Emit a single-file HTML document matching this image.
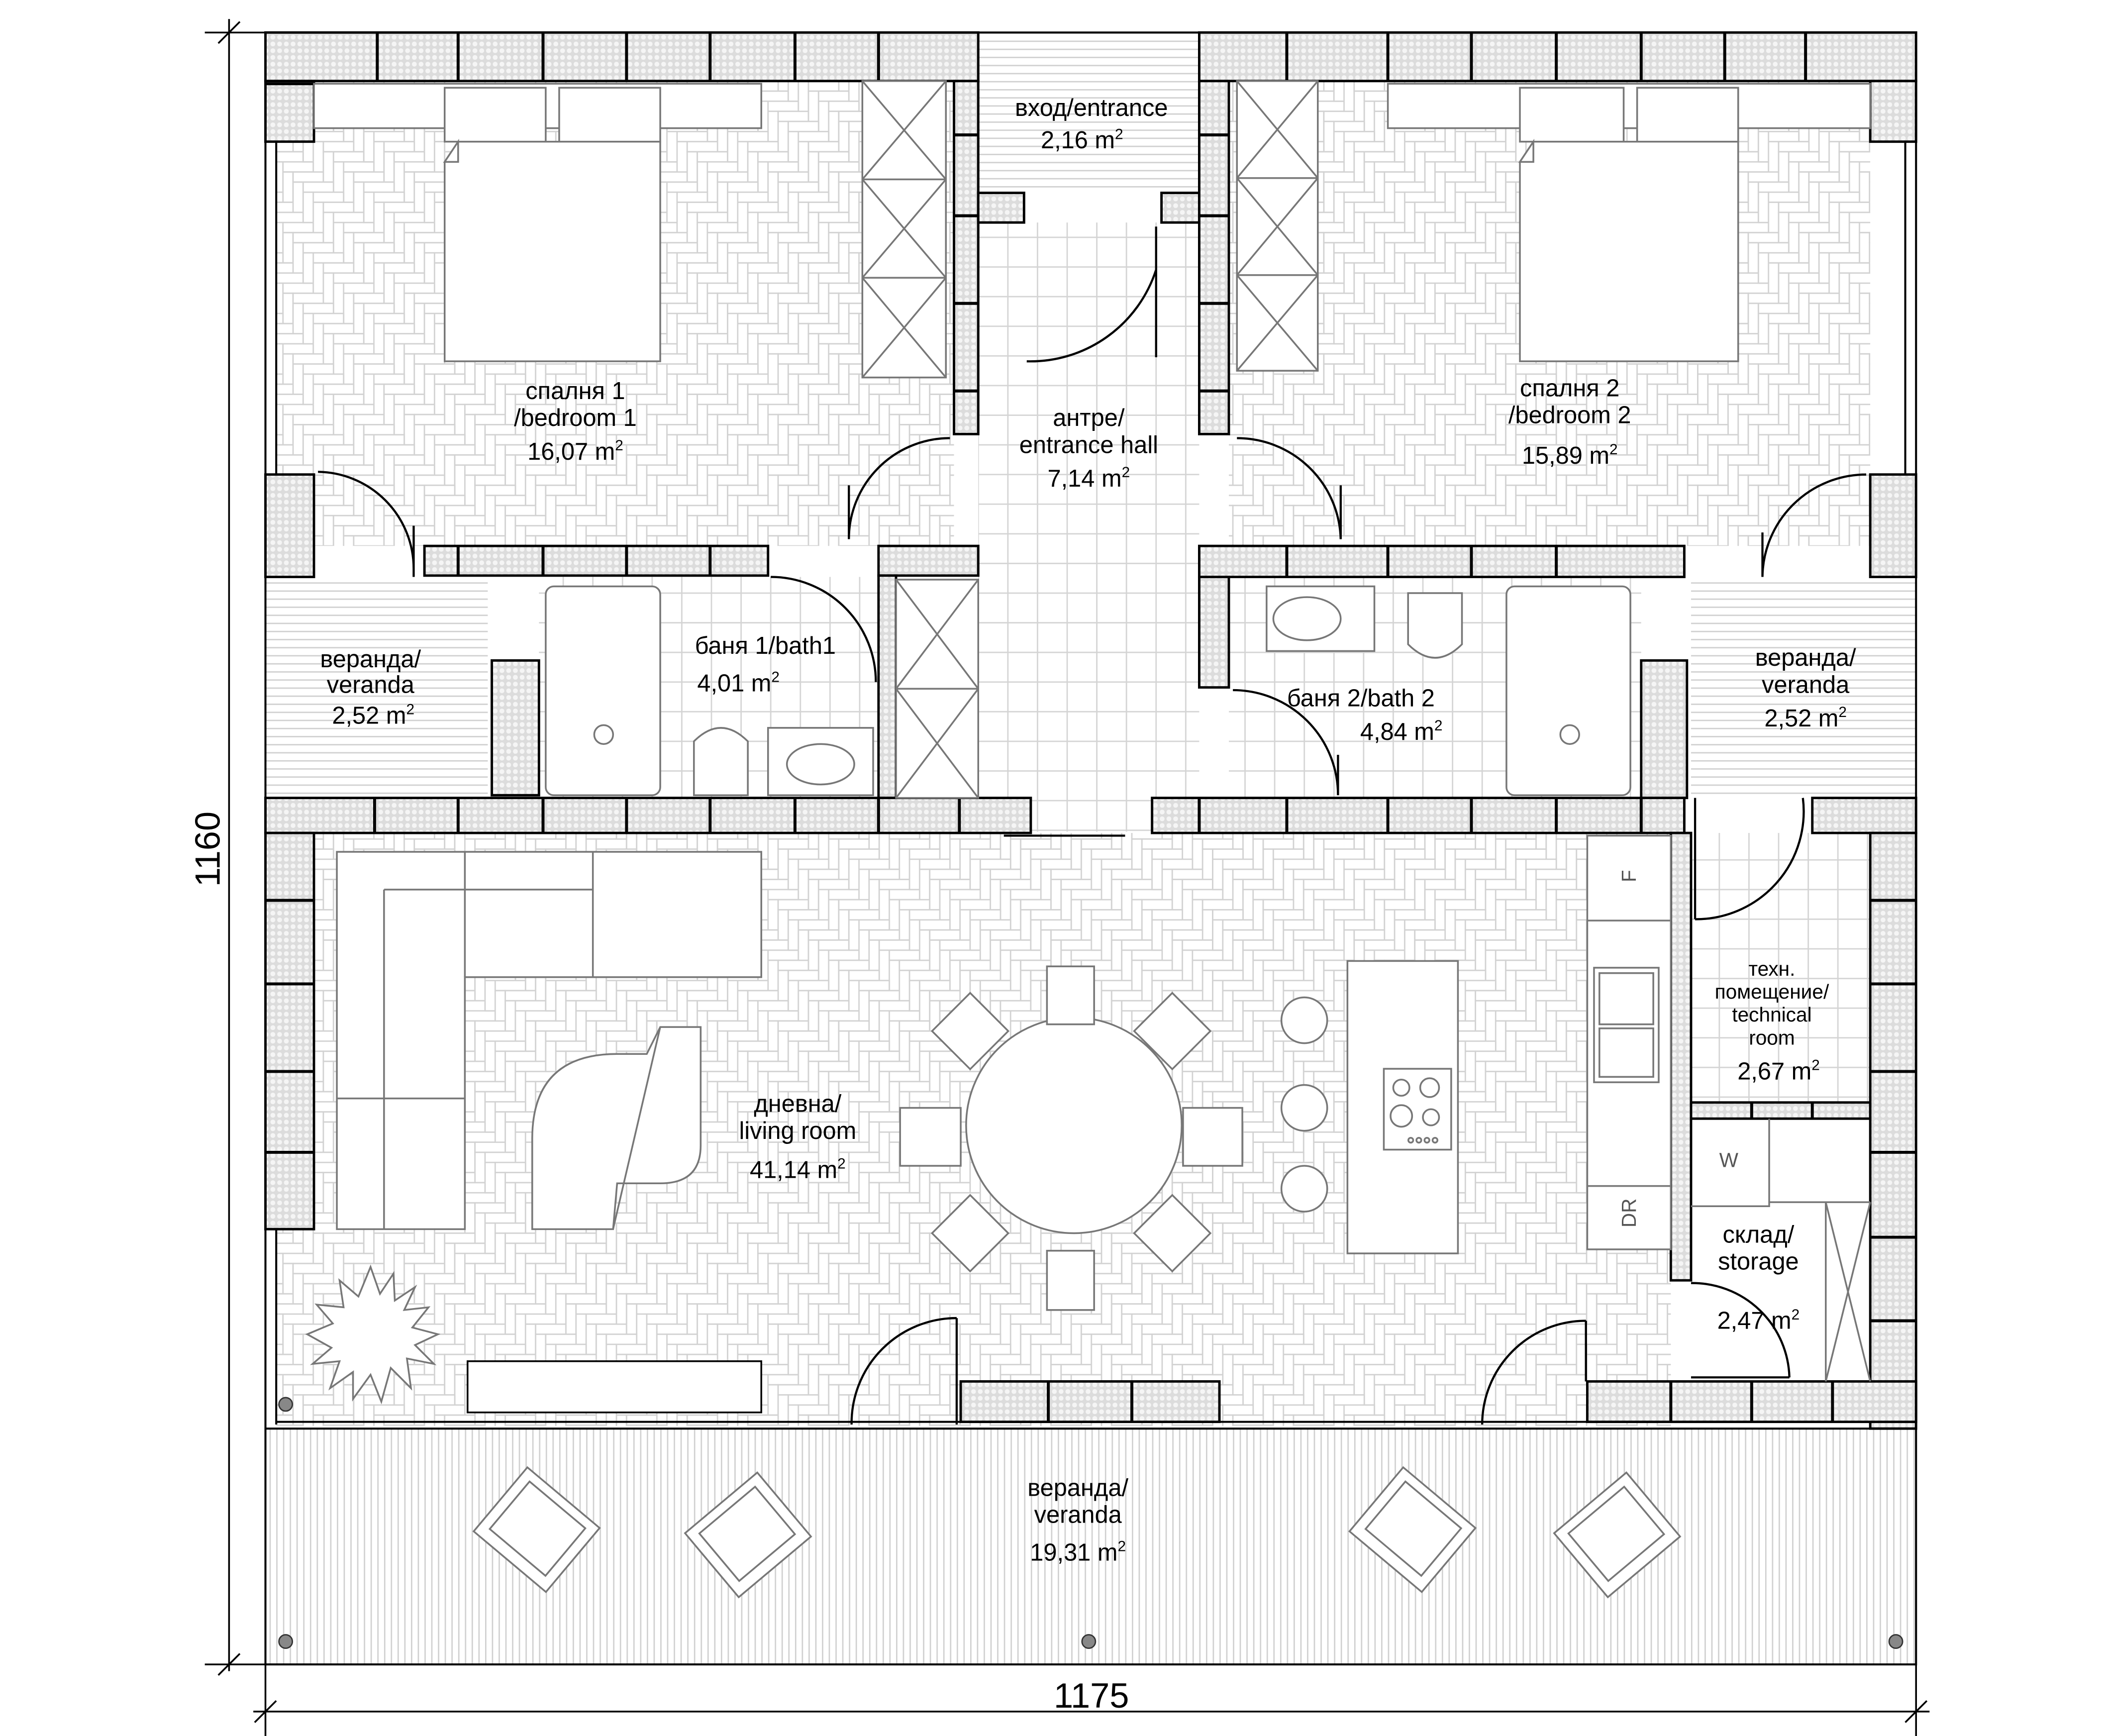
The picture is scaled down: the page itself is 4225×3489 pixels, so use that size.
<!DOCTYPE html>
<html><head><meta charset="utf-8"><style>html,body{margin:0;padding:0;background:#fff}svg{display:block}</style></head>
<body>
<svg width="4225" height="3489" viewBox="0 0 1560 1288" xmlns="http://www.w3.org/2000/svg" xmlns:xlink="http://www.w3.org/1999/xlink" font-family="Liberation Sans, DejaVu Sans, sans-serif">
<defs>
<g id="hbt" fill="#fff" stroke="#d2d2d2" stroke-width="1">
<rect x="0" y="0" width="22.5" height="7.5"/><rect x="0" y="7.5" width="7.5" height="22.5"/>
<rect x="7.5" y="7.5" width="22.5" height="7.5"/><rect x="7.5" y="15" width="7.5" height="22.5"/>
<rect x="15" y="15" width="22.5" height="7.5"/><rect x="15" y="22.5" width="7.5" height="22.5"/>
<rect x="22.5" y="22.5" width="22.5" height="7.5"/><rect x="22.5" y="30" width="7.5" height="22.5"/>
<rect x="30" y="30" width="22.5" height="7.5"/><rect x="30" y="37.5" width="7.5" height="22.5"/>
<rect x="37.5" y="37.5" width="22.5" height="7.5"/><rect x="37.5" y="45" width="7.5" height="22.5"/>
</g>
<pattern id="hb" patternUnits="userSpaceOnUse" width="45" height="45">
<use xlink:href="#hbt" x="-45" y="-45"/><use xlink:href="#hbt" x="0" y="-45"/><use xlink:href="#hbt" x="45" y="-45"/>
<use xlink:href="#hbt" x="-45" y="0"/><use xlink:href="#hbt" x="0" y="0"/><use xlink:href="#hbt" x="45" y="0"/>
<use xlink:href="#hbt" x="-45" y="45"/><use xlink:href="#hbt" x="0" y="45"/><use xlink:href="#hbt" x="45" y="45"/>
</pattern>
<pattern id="wall" patternUnits="userSpaceOnUse" width="5" height="5">
<rect width="5" height="5" fill="#dcdcdc"/><circle cx="2.5" cy="2.5" r="1.8" fill="#f5f5f5"/>
</pattern>
<pattern id="grid" patternUnits="userSpaceOnUse" width="22" height="22">
<rect width="22" height="22" fill="#fff" stroke="#d4d4d4" stroke-width="1"/>
</pattern>
<pattern id="vs" patternUnits="userSpaceOnUse" width="5" height="10">
<rect width="5" height="10" fill="#fff"/><line x1="0.5" y1="0" x2="0.5" y2="10" stroke="#d0d0d0" stroke-width="1"/>
</pattern>
<pattern id="hs" patternUnits="userSpaceOnUse" width="10" height="6">
<rect width="10" height="6" fill="#fff"/><line x1="0" y1="0.5" x2="10" y2="0.5" stroke="#d0d0d0" stroke-width="1"/>
</pattern>
</defs>

<rect x="205" y="60" width="503" height="345" fill="url(#hb)"/>
<rect x="912" y="60" width="476" height="345" fill="url(#hb)"/>
<rect x="205" y="618" width="1035" height="440" fill="url(#hb)"/>
<rect x="726" y="165" width="164" height="452" fill="url(#grid)"/>
<rect x="400" y="428" width="252" height="164" fill="url(#grid)"/>
<rect x="912" y="428" width="306" height="164" fill="url(#grid)"/>
<rect x="1255" y="618" width="133" height="200" fill="url(#grid)"/>
<rect x="1255" y="830" width="133" height="195" fill="#fff"/>
<rect x="197" y="430" width="165" height="162" fill="url(#hs)"/>
<rect x="1255" y="430" width="167" height="162" fill="url(#hs)"/>
<rect x="726" y="24" width="164" height="119" fill="url(#hs)"/>
<rect x="197" y="1060" width="1225" height="175" fill="url(#vs)"/>

<rect x="197" y="24" width="1225" height="1211" fill="none" stroke="#000" stroke-width="1.5"/>
<line x1="205" y1="95" x2="205" y2="352" stroke="#000" stroke-width="1.5"/>
<line x1="205" y1="912" x2="205" y2="1057" stroke="#000" stroke-width="1.5"/>
<line x1="1414" y1="105" x2="1414" y2="352" stroke="#000" stroke-width="1.5"/>
<line x1="205" y1="1055" x2="1422" y2="1055" stroke="#000" stroke-width="1.5"/>
<line x1="197" y1="1060" x2="1422" y2="1060" stroke="#000" stroke-width="1.5"/>

<g fill="url(#wall)" stroke="#000" stroke-width="1.8">
<rect x="197" y="24" width="529" height="36"/>
<path d="M197,60 H233 V105 H197 Z"/>
<rect x="197" y="352" width="36" height="76"/>
<rect x="708" y="60" width="18" height="262"/>
<rect x="726" y="143" width="34" height="22"/>
<rect x="862" y="143" width="28" height="22"/>
<rect x="890" y="24" width="532" height="36"/>
<rect x="1388" y="60" width="34" height="45"/>
<rect x="1388" y="352" width="34" height="76"/>
<rect x="890" y="60" width="22" height="262"/>
<rect x="315" y="405" width="255" height="22"/>
<rect x="652" y="405" width="74" height="22"/>
<rect x="652" y="427" width="13" height="165"/>
<rect x="365" y="490" width="35" height="100"/>
<rect x="890" y="405" width="360" height="23"/>
<rect x="890" y="428" width="22" height="82"/>
<rect x="1218" y="490" width="34" height="102"/>
<rect x="197" y="592" width="568" height="26"/>
<rect x="855" y="592" width="395" height="26"/>
<rect x="1345" y="592" width="77" height="26"/>
<rect x="197" y="618" width="36" height="294"/>
<rect x="1240" y="618" width="15" height="332"/>
<rect x="1255" y="818" width="133" height="12"/>
<rect x="1388" y="618" width="34" height="442"/>
<rect x="713" y="1025" width="192" height="30"/>
<rect x="1178" y="1025" width="244" height="30"/>
</g>
<g stroke="#000" stroke-width="2.2">
<line x1="280" y1="24" x2="280" y2="60"/><line x1="340" y1="24" x2="340" y2="60"/><line x1="403" y1="24" x2="403" y2="60"/><line x1="465" y1="24" x2="465" y2="60"/><line x1="527" y1="24" x2="527" y2="60"/><line x1="590" y1="24" x2="590" y2="60"/><line x1="652" y1="24" x2="652" y2="60"/>
<line x1="197" y1="62" x2="233" y2="62"/>
<line x1="708" y1="100" x2="726" y2="100"/><line x1="708" y1="160" x2="726" y2="160"/><line x1="708" y1="225" x2="726" y2="225"/><line x1="708" y1="290" x2="726" y2="290"/>
<line x1="955" y1="24" x2="955" y2="60"/><line x1="1030" y1="24" x2="1030" y2="60"/><line x1="1092" y1="24" x2="1092" y2="60"/><line x1="1155" y1="24" x2="1155" y2="60"/><line x1="1218" y1="24" x2="1218" y2="60"/><line x1="1280" y1="24" x2="1280" y2="60"/><line x1="1340" y1="24" x2="1340" y2="60"/>
<line x1="890" y1="100" x2="912" y2="100"/><line x1="890" y1="160" x2="912" y2="160"/><line x1="890" y1="225" x2="912" y2="225"/><line x1="890" y1="290" x2="912" y2="290"/>
<line x1="340" y1="405" x2="340" y2="427"/><line x1="403" y1="405" x2="403" y2="427"/><line x1="465" y1="405" x2="465" y2="427"/><line x1="527" y1="405" x2="527" y2="427"/>
<line x1="955" y1="405" x2="955" y2="428"/><line x1="1030" y1="405" x2="1030" y2="428"/><line x1="1092" y1="405" x2="1092" y2="428"/><line x1="1155" y1="405" x2="1155" y2="428"/>
<line x1="278" y1="592" x2="278" y2="618"/><line x1="340" y1="592" x2="340" y2="618"/><line x1="403" y1="592" x2="403" y2="618"/><line x1="465" y1="592" x2="465" y2="618"/><line x1="527" y1="592" x2="527" y2="618"/><line x1="590" y1="592" x2="590" y2="618"/><line x1="652" y1="592" x2="652" y2="618"/><line x1="712" y1="592" x2="712" y2="618"/>
<line x1="890" y1="592" x2="890" y2="618"/><line x1="955" y1="592" x2="955" y2="618"/><line x1="1030" y1="592" x2="1030" y2="618"/><line x1="1092" y1="592" x2="1092" y2="618"/><line x1="1155" y1="592" x2="1155" y2="618"/><line x1="1218" y1="592" x2="1218" y2="618"/>
<line x1="197" y1="668" x2="233" y2="668"/><line x1="197" y1="730" x2="233" y2="730"/><line x1="197" y1="795" x2="233" y2="795"/><line x1="197" y1="855" x2="233" y2="855"/>
<line x1="1388" y1="668" x2="1422" y2="668"/><line x1="1388" y1="730" x2="1422" y2="730"/><line x1="1388" y1="795" x2="1422" y2="795"/><line x1="1388" y1="855" x2="1422" y2="855"/><line x1="1388" y1="918" x2="1422" y2="918"/><line x1="1388" y1="980" x2="1422" y2="980"/>
<line x1="778" y1="1025" x2="778" y2="1055"/><line x1="840" y1="1025" x2="840" y2="1055"/>
<line x1="1240" y1="1025" x2="1240" y2="1055"/><line x1="1300" y1="1025" x2="1300" y2="1055"/><line x1="1360" y1="1025" x2="1360" y2="1055"/>
<line x1="1300" y1="818" x2="1300" y2="830"/><line x1="1345" y1="818" x2="1345" y2="830"/>
</g>

<g fill="#fff" stroke="#777" stroke-width="1.3">
<rect x="233" y="62" width="332" height="33"/>
<rect x="330" y="65" width="75" height="40"/><rect x="415" y="65" width="75" height="40"/>
<path d="M340,105 H490 V268 H330 V120 Z"/><path d="M330,120 L340,105 V120 Z"/>
<rect x="640" y="60" width="62" height="220"/>
<path d="M640,60 L702,133 M702,60 L640,133 M640,133 H702 M640,133 L702,206 M702,133 L640,206 M640,206 H702 M640,206 L702,280 M702,206 L640,280" fill="none"/>
<rect x="1030" y="62" width="358" height="33"/>
<rect x="1128" y="65" width="77" height="40"/><rect x="1215" y="65" width="75" height="40"/>
<path d="M1138,105 H1290 V268 H1128 V120 Z"/><path d="M1128,120 L1138,105 V120 Z"/>
<rect x="918" y="60" width="60" height="215"/>
<path d="M918,60 L978,132 M978,60 L918,132 M918,132 H978 M918,132 L978,204 M978,132 L918,204 M918,204 H978 M918,204 L978,275 M978,204 L918,275" fill="none"/>
<rect x="665" y="430" width="61" height="162"/>
<path d="M665,430 L726,511 M726,430 L665,511 M665,511 H726 M665,511 L726,592 M726,511 L665,592" fill="none"/>
<rect x="405" y="435" width="85" height="155" rx="6"/>
<circle cx="448" cy="545" r="7"/>
<path d="M515,590 V550 Q535,530 555,550 V590 Z"/>
<rect x="570" y="540" width="78" height="50"/><ellipse cx="609" cy="567" rx="25" ry="15"/>
<rect x="940" y="435" width="80" height="48"/><ellipse cx="970" cy="459" rx="25" ry="16"/>
<path d="M1045,440 V478 Q1065,498 1085,478 V440 Z"/>
<rect x="1118" y="435" width="92" height="155" rx="6"/>
<circle cx="1165" cy="545" r="7"/>
<path d="M250,632 H565 V725 H345 V912 H250 Z"/>
<path d="M285,660 V912 M285,660 H440 V725 M345,632 V725 M440,632 V660 M250,815 H345" fill="none"/>
<path d="M395,912 V845 Q395,782 458,782 H480 L490,762 H520 V850 Q520,878 490,878 H458 L455,912 Z"/>
<path d="M490,762 L455,912" fill="none"/>
<circle cx="797" cy="835" r="80"/>
<rect x="777" y="717" width="35" height="43"/><rect x="777" y="928" width="35" height="44"/>
<rect x="668" y="822" width="45" height="43"/><rect x="878" y="822" width="44" height="43"/>
<rect x="700" y="745" width="40" height="40" transform="rotate(45 720 765)"/>
<rect x="850" y="745" width="40" height="40" transform="rotate(45 870 765)"/>
<rect x="700" y="895" width="40" height="40" transform="rotate(45 720 915)"/>
<rect x="850" y="895" width="40" height="40" transform="rotate(45 870 915)"/>
<circle cx="968" cy="757" r="17"/><circle cx="968" cy="822" r="17"/><circle cx="968" cy="882" r="17"/>
<rect x="1000" y="713" width="82" height="217"/>
<rect x="1027" y="793" width="50" height="60"/>
<circle cx="1040" cy="807" r="6"/><circle cx="1061" cy="807" r="7"/><circle cx="1040" cy="828" r="8"/><circle cx="1062" cy="829" r="6"/>
<circle cx="1047" cy="846" r="1.8"/><circle cx="1053" cy="846" r="1.8"/><circle cx="1059" cy="846" r="1.8"/><circle cx="1065" cy="846" r="1.8"/>
<rect x="1178" y="620" width="62" height="307"/>
<path d="M1178,683 H1240 M1178,880 H1240" fill="none"/>
<rect x="1183" y="718" width="48" height="85"/><rect x="1187" y="722" width="40" height="38"/><rect x="1187" y="763" width="40" height="36"/>
<path d="M1255,895 H1313 V830 M1313,892 H1388 M1355,892 V1025" fill="none"/>
<path d="M1355,892 L1388,1025 M1388,892 L1355,1025" fill="none"/>
<rect x="347" y="1010" width="218" height="38" stroke="#000"/>
<path d="M275,940 L282,960 L292,945 L293,965 L308,955 L300,972 L318,970 L306,985 L325,990 L308,998 L322,1012 L302,1008 L305,1030 L290,1015 L283,1040 L275,1020 L262,1038 L262,1018 L245,1030 L252,1010 L232,1012 L246,1000 L228,990 L247,982 L235,968 L255,970 L252,950 L266,962 Z"/>
<rect x="360" y="1105" width="70" height="62" transform="rotate(40 398 1140)"/>
<rect x="368" y="1112" width="54" height="46" transform="rotate(40 398 1140)"/>
<rect x="522" y="1105" width="70" height="62" transform="rotate(-40 560 1140)"/>
<rect x="530" y="1112" width="54" height="46" transform="rotate(-40 560 1140)"/>
<rect x="1010" y="1105" width="70" height="62" transform="rotate(40 1048 1140)"/>
<rect x="1018" y="1112" width="54" height="46" transform="rotate(40 1048 1140)"/>
<rect x="1167" y="1105" width="70" height="62" transform="rotate(-40 1205 1140)"/>
<rect x="1175" y="1112" width="54" height="46" transform="rotate(-40 1205 1140)"/>
</g>
<g fill="#888" stroke="#333" stroke-width="1">
<circle cx="212" cy="1218" r="5"/><circle cx="808" cy="1218" r="5"/><circle cx="1407" cy="1218" r="5"/><circle cx="212" cy="1042" r="5"/>
</g>

<g fill="none" stroke="#000" stroke-width="1.6">
<path d="M236,350 A72,72 0 0 1 307,422 M307,390 V428"/>
<path d="M705,325 A75,75 0 0 0 630,400 M630,360 V400"/>
<path d="M762,268 A98,98 0 0 0 858,200 M858,168 V265"/>
<path d="M918,325 A77,77 0 0 1 995,400 M995,360 V400"/>
<path d="M1385,352 A77,77 0 0 0 1308,428 M1308,395 V428"/>
<path d="M572,428 A78,78 0 0 1 650,506"/>
<path d="M915,512 A78,78 0 0 1 993,590 M993,560 V590"/>
<path d="M1338,592 A80,80 0 0 1 1258,682 M1258,592 V682"/>
<path d="M1255,952 A72,72 0 0 1 1328,1022 M1255,1022 H1328"/>
<path d="M632,1057 A78,78 0 0 1 710,978 M710,978 V1057"/>
<path d="M1100,1057 A77,77 0 0 1 1177,980 M1177,980 V1025"/>
<line x1="745" y1="620" x2="835" y2="620"/>
</g>

<g stroke="#000" stroke-width="1.3" fill="none">
<line x1="170" y1="14" x2="170" y2="1240"/>
<line x1="152" y1="24" x2="197" y2="24"/><line x1="152" y1="1235" x2="197" y2="1235"/>
<line x1="162" y1="32" x2="178" y2="16"/><line x1="162" y1="1243" x2="178" y2="1227"/>
<line x1="188" y1="1270" x2="1432" y2="1270"/>
<line x1="197" y1="1235" x2="197" y2="1290"/><line x1="1422" y1="1235" x2="1422" y2="1290"/>
<line x1="189" y1="1278" x2="205" y2="1262"/><line x1="1414" y1="1278" x2="1430" y2="1262"/>
</g>

<g font-size="18" fill="#000" text-anchor="middle">
<text x="810" y="86">вход/entrance</text><text x="803" y="110">2,16 m<tspan font-size="11" dy="-7">2</tspan></text>
<text x="427" y="296">спалня 1</text><text x="427" y="316">/bedroom 1</text><text x="427" y="341">16,07 m<tspan font-size="11" dy="-7">2</tspan></text>
<text x="1165" y="294">спалня 2</text><text x="1165" y="314">/bedroom 2</text><text x="1165" y="344">15,89 m<tspan font-size="11" dy="-7">2</tspan></text>
<text x="808" y="316">антре/</text><text x="808" y="336">entrance hall</text><text x="808" y="361">7,14 m<tspan font-size="11" dy="-7">2</tspan></text>
<text x="275" y="495">веранда/</text><text x="275" y="514">veranda</text><text x="277" y="537">2,52 m<tspan font-size="11" dy="-7">2</tspan></text>
<text x="568" y="485">баня 1/bath1</text><text x="548" y="513">4,01 m<tspan font-size="11" dy="-7">2</tspan></text>
<text x="1010" y="524">баня 2/bath 2</text><text x="1040" y="549">4,84 m<tspan font-size="11" dy="-7">2</tspan></text>
<text x="1340" y="494">веранда/</text><text x="1340" y="514">veranda</text><text x="1340" y="539">2,52 m<tspan font-size="11" dy="-7">2</tspan></text>
<text x="592" y="825">дневна/</text><text x="592" y="845">living room</text><text x="592" y="874">41,14 m<tspan font-size="11" dy="-7">2</tspan></text>
<text x="1305" y="922">склад/</text><text x="1305" y="942">storage</text><text x="1305" y="986">2,47 m<tspan font-size="11" dy="-7">2</tspan></text>
<text x="800" y="1110">веранда/</text><text x="800" y="1130">veranda</text><text x="800" y="1158">19,31 m<tspan font-size="11" dy="-7">2</tspan></text>
<text x="1320" y="801">2,67 m<tspan font-size="11" dy="-7">2</tspan></text>
<g font-size="15"><text x="1315" y="724">техн.</text><text x="1315" y="741">помещение/</text><text x="1315" y="758">technical</text><text x="1315" y="775">room</text></g>
<g font-size="15" fill="#555"><text x="1283" y="866">W</text>
<text transform="translate(1214,650) rotate(-90)">F</text><text transform="translate(1214,900) rotate(-90)">DR</text></g>
<text x="810" y="1267" font-size="26">1175</text>
<text transform="translate(163,630) rotate(-90)" font-size="26">1160</text>
</g>
</svg>
</body></html>
